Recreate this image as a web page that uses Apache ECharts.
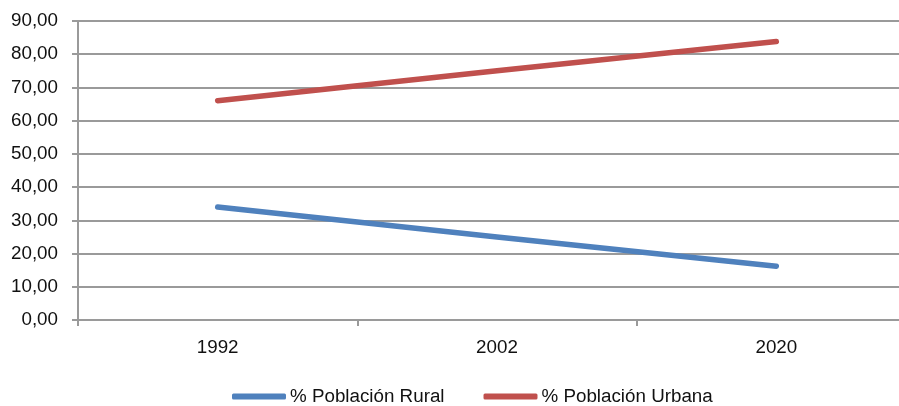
<!DOCTYPE html>
<html>
<head>
<meta charset="utf-8">
<script src="https://cdn.jsdelivr.net/npm/echarts@6/dist/echarts.min.js"></script>
<style>html,body{margin:0;padding:0;background:#fff;overflow:hidden;width:899px;height:406px}#c{width:916px;height:406px}</style>
</head>
<body>
<div id="c"></div>
<script>
const categories = ['1992', '2002', '2020'];
const rural = [34.0, 25.0, 16.2];
const urbana = [66.0, 75.0, 83.8];
const seriesNames = ['% Población Rural', '% Población Urbana'];

const chart = echarts.init(document.getElementById('c'), null, {renderer: 'canvas'});
const font = '"Liberation Sans", Arial, sans-serif';
const gray = '#9a9a9a';
chart.setOption({
  animation: false,
  backgroundColor: '#fff',
  grid: {left: 78, top: 21, right: 0, bottom: 86, containLabel: false},
  legend: {
    left: 232, top: 387, padding: 0,
    itemWidth: 54, itemHeight: 6, itemGap: 39,
    icon: 'roundRect',
    textStyle: {fontFamily: font, fontSize: 18.8, color: '#111', padding: [0, 0, 0, -1]},
    data: seriesNames
  },
  xAxis: {
    type: 'category',
    data: categories,
    boundaryGap: true,
    axisLine: {show: true, lineStyle: {color: gray, width: 2}},
    axisTick: {show: true, length: 6, interval: 0, lineStyle: {color: gray, width: 2}},
    axisLabel: {margin: 18, fontFamily: font, fontSize: 18.8, color: '#111', interval: 0},
    splitLine: {show: false}
  },
  yAxis: {
    type: 'value',
    min: 0, max: 90, interval: 10,
    axisLine: {show: true, lineStyle: {color: gray, width: 2}},
    axisTick: {show: true, length: 6, lineStyle: {color: gray, width: 2}},
    axisLabel: {
      margin: 20, fontFamily: font, fontSize: 18.8, color: '#111',
      formatter: v => v.toFixed(2).replace('.', ',')
    },
    splitLine: {show: true, lineStyle: {color: gray, width: 2}}
  },
  series: [
    {name: seriesNames[0], type: 'line', data: rural, showSymbol: false, symbol: 'none',
     lineStyle: {color: '#4F81BD', width: 5.5, cap: 'round', join: 'round'}, itemStyle: {color: '#4F81BD'}},
    {name: seriesNames[1], type: 'line', data: urbana, showSymbol: false, symbol: 'none',
     lineStyle: {color: '#C0504D', width: 5.5, cap: 'round', join: 'round'}, itemStyle: {color: '#C0504D'}}
  ]
});
</script>
</body>
</html>
